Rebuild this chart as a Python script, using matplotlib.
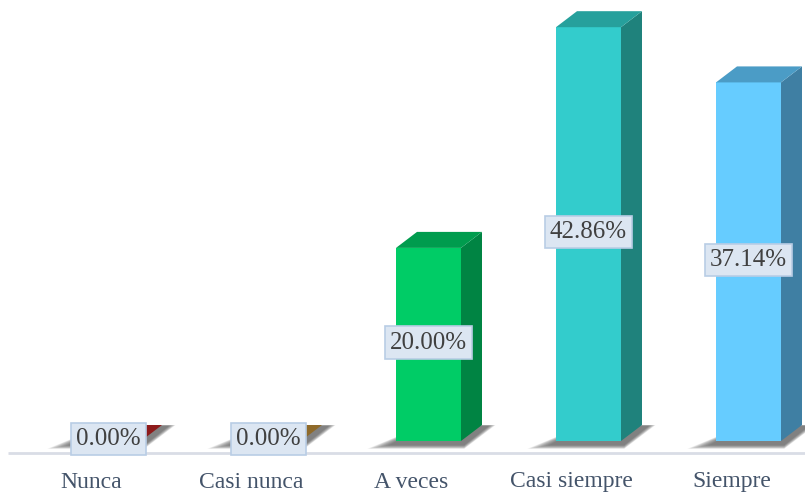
import numpy as np
import matplotlib.pyplot as plt
from matplotlib.patches import Polygon

categorias = ["Nunca", "Casi nunca", "A veces", "Casi siempre", "Siempre"]
porcentajes = [0.00, 0.00, 20.00, 42.86, 37.14]
etiquetas = ["0.00%", "0.00%", "20.00%", "42.86%", "37.14%"]

# colores: frente, lateral, tapa
c_frente = ["#c0504d", "#c09a50", "#00cc66", "#33cccc", "#66ccff"]
c_lado = ["#7a1616", "#7c5a22", "#008443", "#1f827c", "#3f7fa3"]
c_tapa = ["#8e1b1b", "#8f6a2a", "#009c4e", "#26a09c", "#4b9cc6"]

W, H = 805, 493
fig = plt.figure(figsize=(W / 100, H / 100), dpi=100)
ax = fig.add_axes([0, 0, 1, 1])

# escala: 160 px por categoria, ~9.655 px por punto porcentual
px_x = 160.0
px_y = 9.655
x0_px = 108.5
base_px = 441
ax.set_xlim(-x0_px / px_x, (W - x0_px) / px_x)
ax.set_ylim(-(H - base_px) / px_y, base_px / px_y)
ax.axis("off")

ancho = 65 / px_x
dx = 21 / px_x
dy = 16 / px_y

# linea del eje
ax.plot([8 / px_x - x0_px / px_x, 1.0 * W / px_x], [-11.5 / px_y] * 2,
        color="#d9dde6", lw=2, solid_capstyle="butt", zorder=1)

for i, v in enumerate(porcentajes):
    xl = i - ancho / 2
    xr = i + ancho / 2

    # sombra difusa en la base
    n = 14
    for k in range(n):
        e = 1 - k / n
        sx = 24 / px_x * e
        sy = 4 / px_y * e
        pts = [(xl - sx - 0.03, -0.4 - sy), (xr + 0.02, -0.4 - sy),
               (xr + dx + 0.04 + sx * 0.3, dy * 0.95 + sy * 0.2),
               (xl + dx + 0.05, dy * 0.95 + sy * 0.2)]
        ax.add_patch(Polygon(pts, closed=True, facecolor="#404040", edgecolor="none",
                             alpha=0.07, zorder=2))

    # cara frontal
    ax.add_patch(Polygon([(xl, 0), (xr, 0), (xr, v), (xl, v)], closed=True,
                         facecolor=c_frente[i], edgecolor="none", zorder=3))
    # cara lateral
    ax.add_patch(Polygon([(xr, 0), (xr + dx, dy), (xr + dx, v + dy), (xr, v)], closed=True,
                         facecolor=c_lado[i], edgecolor="none", zorder=3))
    # tapa
    ax.add_patch(Polygon([(xl, v), (xr, v), (xr + dx, v + dy), (xl + dx, v + dy)], closed=True,
                         facecolor=c_tapa[i], edgecolor="none", zorder=4))

    # etiqueta de valor
    ax.text(i, v / 2 + 0.2, etiquetas[i], ha="center", va="center", fontsize=18,
            family="Liberation Serif", color="#404040", zorder=6,
            bbox=dict(boxstyle="square,pad=0.21", facecolor="#dce6f2",
                      edgecolor="#b9cde5", lw=1.2))

    # etiqueta de categoria
    ax.text(i - 17 / px_x, -(482 - base_px) / px_y, categorias[i], ha="center", va="center",
            fontsize=17, family="Liberation Serif", color="#44546a", zorder=6)

fig.savefig("out.png", dpi=100)
